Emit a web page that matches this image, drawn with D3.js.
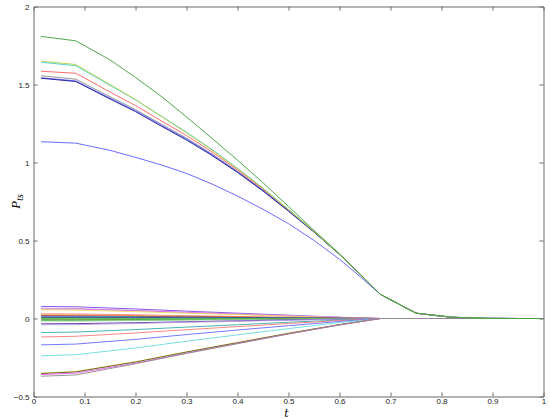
<!DOCTYPE html>
<html>
<head>
<meta charset="utf-8">
<script src="https://cdn.jsdelivr.net/npm/d3@7"></script>
<style>
  html, body { margin: 0; padding: 0; background: #fff; }
  svg { display: block; }
</style>
</head>
<body>
<div id="chart"></div>
<script>
// ---- Data ----
const xTicks = [0, 0.1, 0.2, 0.3, 0.4, 0.5, 0.6, 0.7, 0.8, 0.9, 1];
const yTicks = [-0.5, 0, 0.5, 1, 1.5, 2];

// time grid of the large curves
const tBig = [0.015, 0.083, 0.15, 0.2, 0.25, 0.3, 0.35, 0.4, 0.45, 0.5, 0.55, 0.6, 0.64, 0.68, 0.75, 0.82, 0.89, 0.95, 1.0];
const bigGreen  = [1.808, 1.780, 1.658, 1.545, 1.425, 1.292, 1.155, 1.015, 0.870, 0.718, 0.565, 0.415, 0.287, 0.155, 0.034, 0.008, 0.001, 0, 0];
const bigYellow = [1.650, 1.628, 1.500, 1.403, 1.297, 1.190, 1.080, 0.961, 0.834, 0.698, 0.559, 0.411, 0.285, 0.155, 0.034, 0.008, 0.001, 0, 0];
const bigCyan   = [1.643, 1.620, 1.495, 1.402, 1.298, 1.194, 1.083, 0.963, 0.835, 0.699, 0.559, 0.411, 0.285, 0.155, 0.034, 0.008, 0.001, 0, 0];
const bigRed    = [1.585, 1.572, 1.452, 1.365, 1.268, 1.173, 1.068, 0.953, 0.829, 0.696, 0.558, 0.411, 0.285, 0.155, 0.034, 0.008, 0.001, 0, 0];
const bigGray   = [1.556, 1.534, 1.421, 1.339, 1.247, 1.156, 1.055, 0.944, 0.823, 0.692, 0.556, 0.410, 0.285, 0.155, 0.034, 0.008, 0.001, 0, 0];
const bigBlue   = [1.543, 1.523, 1.412, 1.331, 1.240, 1.150, 1.050, 0.940, 0.820, 0.690, 0.555, 0.410, 0.285, 0.155, 0.034, 0.008, 0.001, 0, 0];
const bigNavy   = [1.540, 1.519, 1.407, 1.326, 1.234, 1.144, 1.045, 0.936, 0.817, 0.688, 0.554, 0.410, 0.285, 0.155, 0.034, 0.008, 0.001, 0, 0];
const bigLow    = [1.133, 1.124, 1.078, 1.033, 0.985, 0.930, 0.862, 0.785, 0.700, 0.608, 0.500, 0.380, 0.270, 0.155, 0.034, 0.008, 0.001, 0, 0];

const bigSeries = [
  { v: bigLow,    c: "#5a5aff" },
  { v: bigGray,   c: "#8a8a8a" },
  { v: bigBlue,   c: "#5c5cff" },
  { v: bigNavy,   c: "#1a1a9a" },
  { v: bigRed,    c: "#ff5a5a" },
  { v: bigCyan,   c: "#3ccfcf" },
  { v: bigYellow, c: "#b2cf3c" },
  { v: bigGreen,  c: "#3a9e3a" }
];

// time grid of the small curves
const tSmall = [0.015, 0.083, 0.2, 0.3, 0.4, 0.5, 0.6, 0.68, 1.0];
const s01 = [0.077, 0.075, 0.061, 0.047, 0.034, 0.021, 0.008, 0, 0];
const s02 = [0.066, 0.064, 0.052, 0.040, 0.029, 0.018, 0.007, 0, 0];
const s03 = [0.060, 0.060, 0.050, 0.039, 0.028, 0.017, 0.007, 0, 0];
const s04 = [0.056, 0.054, 0.044, 0.034, 0.025, 0.015, 0.006, 0, 0];
const s05 = [0.030, 0.029, 0.024, 0.018, 0.013, 0.008, 0.003, 0, 0];
const s06 = [0.024, 0.023, 0.019, 0.015, 0.011, 0.006, 0.003, 0, 0];
const s07 = [0.018, 0.017, 0.014, 0.011, 0.008, 0.005, 0.002, 0, 0];
const s08 = [0.014, 0.014, 0.011, 0.009, 0.006, 0.004, 0.002, 0, 0];
const s09 = [0.009, 0.009, 0.007, 0.005, 0.004, 0.002, 0.001, 0, 0];
const s10 = [0.004, 0.004, 0.003, 0.002, 0.002, 0.001, 0.000, 0, 0];
const s11 = [-0.001, -0.001, -0.001, 0.000, 0.000, 0.000, 0.000, 0, 0];
const s12 = [-0.004, -0.004, -0.003, -0.002, -0.002, -0.001, 0.000, 0, 0];
const s13 = [-0.008, -0.008, -0.006, -0.005, -0.004, -0.002, -0.001, 0, 0];
const s14 = [-0.012, -0.012, -0.009, -0.007, -0.005, -0.003, -0.001, 0, 0];
const s15 = [-0.016, -0.016, -0.013, -0.010, -0.007, -0.004, -0.002, 0, 0];
const s16 = [-0.034, -0.033, -0.027, -0.021, -0.015, -0.009, -0.004, 0, 0];
const s17 = [-0.040, -0.039, -0.032, -0.024, -0.018, -0.011, -0.004, 0, 0];
const s18 = [-0.090, -0.087, -0.071, -0.055, -0.040, -0.024, -0.010, 0, 0];
const s19 = [-0.118, -0.114, -0.093, -0.072, -0.052, -0.032, -0.013, 0, 0];
const s20 = [-0.169, -0.164, -0.134, -0.103, -0.074, -0.046, -0.019, 0, 0];
const s21 = [-0.239, -0.232, -0.189, -0.146, -0.105, -0.065, -0.026, 0, 0];
const s22 = [-0.350, -0.340, -0.277, -0.214, -0.154, -0.095, -0.039, 0, 0];
const s23 = [-0.353, -0.342, -0.279, -0.215, -0.155, -0.095, -0.039, 0, 0];
const s24 = [-0.359, -0.350, -0.287, -0.222, -0.160, -0.099, -0.041, 0, 0];
const s25 = [-0.370, -0.362, -0.290, -0.224, -0.161, -0.099, -0.041, 0, 0];

const smallSeries = [
  { v: s01, c: "#7b3fe4" }, { v: s02, c: "#b4a6d6" }, { v: s03, c: "#ee66ee" },
  { v: s04, c: "#e6e05a" }, { v: s05, c: "#ff8080" }, { v: s06, c: "#f0a040" },
  { v: s07, c: "#cc1111" }, { v: s08, c: "#3399cc" }, { v: s09, c: "#4466dd" },
  { v: s10, c: "#222222" }, { v: s11, c: "#55bb55" }, { v: s12, c: "#66cc66" },
  { v: s13, c: "#669933" }, { v: s14, c: "#44aa44" }, { v: s15, c: "#88cc88" },
  { v: s16, c: "#5522aa" }, { v: s17, c: "#b39ddb" }, { v: s18, c: "#33aaaa" },
  { v: s19, c: "#ff7777" }, { v: s20, c: "#6666ff" }, { v: s21, c: "#66dddd" },
  { v: s22, c: "#e8e040" }, { v: s23, c: "#5a5a20" }, { v: s24, c: "#ee55ee" },
  { v: s25, c: "#8a8a8a" }
];

// ---- Layout ----
const W = 550, H = 419;
const L = 33.5, R = 543.5, T = 6.5, B = 396.5;

const svg = d3.select("#chart").append("svg")
  .attr("width", W).attr("height", H)
  .style("font-family", "'Liberation Sans', Arial, sans-serif");

const x = d3.scaleLinear().domain([0, 1]).range([L, R]);
const y = d3.scaleLinear().domain([-0.5, 2]).range([B, T]);

svg.append("rect").attr("x", L).attr("y", T).attr("width", R - L).attr("height", B - T)
  .attr("fill", "#fff");

svg.append("clipPath").attr("id", "clip").append("rect")
  .attr("x", L).attr("y", T).attr("width", R - L).attr("height", B - T);

const lines = svg.append("g").attr("clip-path", "url(#clip)");

function drawSeries(ts, series) {
  const gen = d3.line().x((d, i) => x(ts[i])).y(d => y(d));
  series.forEach(s => {
    lines.append("path").datum(s.v)
      .attr("d", gen)
      .attr("fill", "none")
      .attr("stroke", s.c)
      .attr("stroke-width", 0.9);
  });
}
drawSeries(tSmall, smallSeries);
drawSeries(tBig, bigSeries);

// ---- Axes (box with inward ticks) ----
const axisColor = "#6a6a6a";
const tl = 4;
const fmt = d => d === 0 ? "0" : String(d).replace("-", "\u2212");

const axB = svg.append("g").attr("transform", `translate(0,${B})`)
  .call(d3.axisBottom(x).tickValues(xTicks).tickSize(-tl).tickPadding(2).tickFormat(fmt));
const axT = svg.append("g").attr("transform", `translate(0,${T})`)
  .call(d3.axisTop(x).tickValues(xTicks).tickSize(-tl).tickFormat(""));
const axL = svg.append("g").attr("transform", `translate(${L},0)`)
  .call(d3.axisLeft(y).tickValues(yTicks).tickSize(-tl).tickPadding(4).tickFormat(fmt));
const axR = svg.append("g").attr("transform", `translate(${R},0)`)
  .call(d3.axisRight(y).tickValues(yTicks).tickSize(-tl).tickFormat(""));

[axB, axT, axL, axR].forEach(a => {
  a.select(".domain").attr("stroke", axisColor);
  a.selectAll(".tick line").attr("stroke", axisColor);
  a.selectAll("text").attr("fill", "#222").style("font-size", "8px")
    .style("font-family", "'Liberation Sans', Arial, sans-serif");
});
axB.selectAll(".tick line").filter(d => d === 0 || d === 1).remove();
axT.selectAll(".tick line").filter(d => d === 0 || d === 1).remove();
axL.selectAll(".tick line").filter(d => d === -0.5 || d === 2).remove();
axR.selectAll(".tick line").filter(d => d === -0.5 || d === 2).remove();

// ---- Labels ----
svg.append("text")
  .attr("x", (L + R) / 2 - 2).attr("y", 416.5)
  .attr("text-anchor", "middle")
  .style("font-family", "'DejaVu Serif', 'Liberation Serif', serif")
  .style("font-style", "italic")
  .style("font-size", "11px")
  .text("t");

const yl = svg.append("text")
  .attr("transform", `translate(20,${(T + B) / 2}) rotate(-90)`)
  .attr("text-anchor", "middle")
  .style("font-family", "'Liberation Serif', 'DejaVu Serif', serif")
  .style("font-style", "italic")
  .style("font-size", "13px");
yl.append("tspan").text("P");
yl.append("tspan").attr("dy", 3).style("font-size", "10px").text("ts");
</script>
</body>
</html>
